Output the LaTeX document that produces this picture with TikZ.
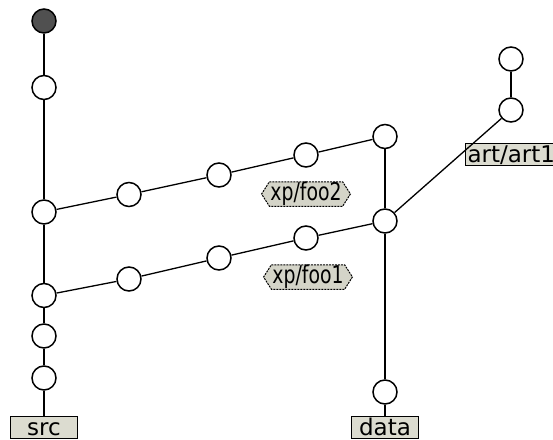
\documentclass[tikz,border=0pt]{standalone}
\usepackage{fontspec}
\setmainfont{DejaVu Sans}
\newfontfamily\condfont[FakeStretch=0.77]{DejaVu Sans}
\usetikzlibrary{shapes.symbols}
\definecolor{labelfill}{HTML}{DCDCD0}
\definecolor{tagfill}{HTML}{D4D4C8}
\definecolor{rootfill}{HTML}{505050}
\tikzset{
  commit/.style={circle, draw=black, line width=1.5pt, fill=white, minimum size=24pt, inner sep=0pt},
  rootcommit/.style={commit, fill=rootfill},
  branchlabel/.style={draw=black, line width=1pt, fill=labelfill, inner xsep=2pt, inner ysep=1.5pt,
    text height=17pt, text depth=2pt, minimum width=67pt,
    font=\fontsize{23}{27}\selectfont},
  taglabel/.style={signal, signal to=east and west, signal pointer angle=115, draw=black,
    line width=1pt, dash pattern=on 2pt off 1pt, fill=tagfill, inner xsep=1pt, inner ysep=0.5pt,
    text height=18.5pt, text depth=5pt, font=\fontsize{24.5}{28}\selectfont\condfont},
  link/.style={line width=1.3pt, draw=black}
}
\begin{document}
\begin{tikzpicture}[x=1pt,y=-1pt]
\useasboundingbox (0,0) rectangle (553,439);
% main line
\node[rootcommit] (c0) at (44,21) {};
\node[commit] (c1) at (44,87.5) {};
\node[commit] (a1) at (44,212) {};
\node[commit] (b1) at (44,295.5) {};
\node[commit] (c4) at (44,336) {};
\node[commit] (c5) at (44,378) {};
% upper branch
\node[commit] (a2) at (129,194.5) {};
\node[commit] (a3) at (219,175) {};
\node[commit] (a4) at (306,155) {};
\node[commit] (a5) at (385,136.5) {};
% lower branch
\node[commit] (b2) at (129,279) {};
\node[commit] (b3) at (219,258) {};
\node[commit] (b4) at (306,238) {};
\node[commit] (m) at (385,221) {};
% data
\node[commit] (d1) at (385,392) {};
% art
\node[commit] (r1) at (511,110) {};
\node[commit] (r2) at (511,59) {};
% labels
\node[branchlabel, anchor=north] (src) at (44,416) {src};
\node[branchlabel, anchor=north] (data) at (385,416) {data};
\node[branchlabel, anchor=north west] (art) at (465,143) {art/art1};
\node[taglabel] (foo2) at (306,194) {xp/foo2};
\node[taglabel] (foo1) at (308,277) {xp/foo1};
% connectors
\draw[link] (c0) -- (c1);
\draw[link] (c1) -- (a1);
\draw[link] (a1) -- (b1);
\draw[link] (b1) -- (c4);
\draw[link] (c4) -- (c5);
\draw[link] (c5) -- (src);
\draw[link] (a1) -- (a2);
\draw[link] (a2) -- (a3);
\draw[link] (a3) -- (a4);
\draw[link] (a4) -- (a5);
\draw[link] (a5) -- (m);
\draw[link] (b1) -- (b2);
\draw[link] (b2) -- (b3);
\draw[link] (b3) -- (b4);
\draw[link] (b4) -- (m);
\draw[link] (m) -- (d1);
\draw[link] (d1) -- (data);
\draw[link] (m) -- (r1);
\draw[link] (r1) -- (r2);
\end{tikzpicture}
\end{document}
